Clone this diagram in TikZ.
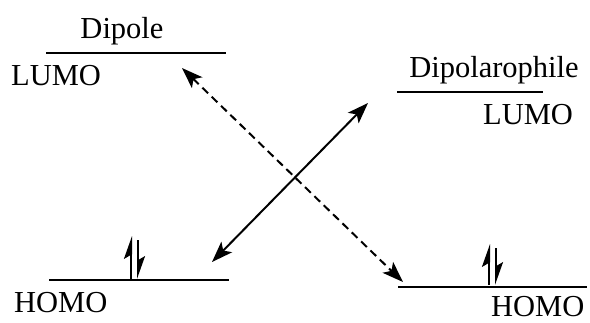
\documentclass[tikz,border=0pt]{standalone}
\usepackage{fontspec}
\setmainfont{Liberation Serif}
\usetikzlibrary{arrows.meta}
\begin{document}
\begin{tikzpicture}[x=1pt,y=-1pt,
  level/.style={line width=1.8pt},
  lbl/.style={inner sep=0pt,font=\fontsize{30.5}{31}\selectfont},
  xarrow/.style={line width=2pt,{Stealth[length=21pt,width=15pt,inset=5pt]}-{Stealth[length=21pt,width=15pt,inset=5pt]}},
  elec/.style={line width=2pt,-{Stealth[harpoon,length=20pt,width=14pt,inset=4pt]}}]
\useasboundingbox (0,0) rectangle (590,322);
% levels
\coordinate (dl1) at (46,53);  \coordinate (dl2) at (226,53);
\coordinate (dh1) at (49,280); \coordinate (dh2) at (229,280);
\coordinate (pl1) at (397,92); \coordinate (pl2) at (543,92);
\coordinate (ph1) at (398,287); \coordinate (ph2) at (587,287);
\draw[level] (dl1) -- (dl2);
\draw[level] (dh1) -- (dh2);
\draw[level] (pl1) -- (pl2);
\draw[level] (ph1) -- (ph2);
% labels
\node[lbl,anchor=base] (tdip) at (122,38) {Dipole};
\node[lbl,anchor=base west] (tdl) at (11,85) {LUMO};
\node[lbl,anchor=base west] (tdh) at (14,312) {HOMO};
\node[lbl,anchor=base] (tpol) at (494,77) {Dipolarophile};
\node[lbl,anchor=base west] (tpl) at (483,124) {LUMO};
\node[lbl,anchor=base west] (tph) at (491,316) {HOMO};
% interaction arrows
\coordinate (a1) at (182,68); \coordinate (a2) at (403,282);
\coordinate (b1) at (212,262); \coordinate (b2) at (368,103);
\draw[xarrow,dash pattern=on 8pt off 5pt] (a1) -- (a2);
\draw[xarrow] (b1) -- (b2);
% electrons
\coordinate (e1a) at (131,279); \coordinate (e1b) at (131,236);
\coordinate (e2a) at (138,240); \coordinate (e2b) at (138,279);
\coordinate (e3a) at (489,285); \coordinate (e3b) at (489,244);
\coordinate (e4a) at (496,248); \coordinate (e4b) at (496,285);
\draw[elec] (e1a) -- (e1b);
\draw[elec] (e2a) -- (e2b);
\draw[elec] (e3a) -- (e3b);
\draw[elec] (e4a) -- (e4b);
\end{tikzpicture}
\end{document}
